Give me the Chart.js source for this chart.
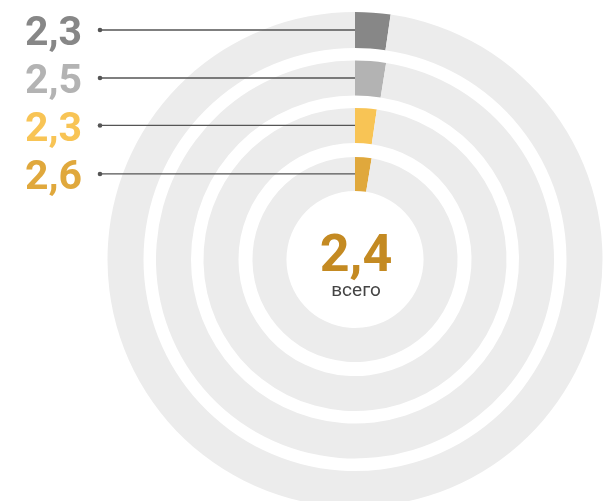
<!DOCTYPE html>
<html>
<head>
<meta charset="utf-8">
<script src="https://cdn.jsdelivr.net/npm/chart.js@4.4.1/dist/chart.umd.min.js"></script>
<style>
  html, body { margin: 0; padding: 0; background: #fff; overflow: hidden; }
  #wrap { position: relative; width: 606px; height: 520px; }
</style>
</head>
<body>
<div id="wrap"><canvas id="rings"></canvas></div>
<script>
// values per ring, outer ring first
const ringLabels = ['2,3', '2,5', '2,3', '2,6'];
const ringValues = [2.3, 2.5, 2.3, 2.6];
const ringColors = ['#878787', '#b3b3b3', '#f8c455', '#e0a83c'];
const totalLabel = '2,4';
const totalCaption = 'всего';

const restColor = '#ececec';
const ringWeights = [36, 35, 35, 34];
const gapWeights = [12.5, 12.5, 14];

const datasets = [];
ringValues.forEach((v, i) => {
  datasets.push({
    label: ringLabels[i],
    data: [v, 100 - v],
    backgroundColor: [ringColors[i], restColor],
    borderWidth: 0,
    weight: ringWeights[i]
  });
  if (i < gapWeights.length) {
    // empty ring used as white gap
    datasets.push({
      label: 'gap',
      data: [100],
      backgroundColor: 'rgba(0,0,0,0)',
      borderWidth: 0,
      weight: gapWeights[i]
    });
  }
});

const labelsPlugin = {
  id: 'ringLabels',
  afterDatasetsDraw(chart) {
    const ctx = chart.ctx;
    ctx.save();
    let ringIdx = 0;
    chart.data.datasets.forEach((ds, di) => {
      if (ds.label === 'gap') return;
      const arc = chart.getDatasetMeta(di).data[0];
      const y = arc.y - (arc.innerRadius + arc.outerRadius) / 2;
      // leader line
      ctx.strokeStyle = '#555555';
      ctx.lineWidth = 1.3;
      ctx.beginPath();
      ctx.moveTo(100, y);
      ctx.lineTo(arc.x, y);
      ctx.stroke();
      ctx.fillStyle = '#555555';
      ctx.beginPath();
      ctx.arc(100, y, 2.3, 0, Math.PI * 2);
      ctx.fill();
      // value
      ctx.fillStyle = ringColors[ringIdx];
      ctx.font = 'bold 41px Roboto';
      ctx.textAlign = 'left';
      ctx.textBaseline = 'alphabetic';
      ctx.fillText(ringLabels[ringIdx], 25, y + 15.5);
      ringIdx++;
    });

    const first = chart.getDatasetMeta(0).data[0];
    ctx.textAlign = 'center';
    ctx.fillStyle = '#c48a22';
    ctx.font = 'bold 52px Roboto';
    ctx.fillText(totalLabel, first.x + 1, first.y + 11);
    ctx.fillStyle = '#444444';
    ctx.font = '19px Roboto';
    ctx.fillText(totalCaption, first.x + 1, first.y + 36);
    ctx.restore();
  }
};

new Chart(document.getElementById('rings'), {
  type: 'doughnut',
  data: { labels: ['value', 'rest'], datasets: datasets },
  options: {
    responsive: true,
    maintainAspectRatio: false,
    animation: false,
    events: [],
    cutout: '27.7%',
    layout: { padding: { left: 107.5, right: 3.5, top: 12, bottom: 13 } },
    plugins: {
      legend: { display: false },
      tooltip: { enabled: false }
    }
  },
  plugins: [labelsPlugin]
});
</script>
</body>
</html>
